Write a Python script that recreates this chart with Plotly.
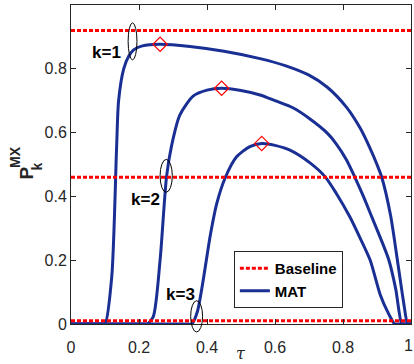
import plotly.graph_objects as go

# ---- data ----
tau_k1 = [0, 0.09, 0.10, 0.12, 0.134, 0.14, 0.155, 0.17, 0.185, 0.21, 0.26, 0.35, 0.45, 0.556,
          0.63, 0.70, 0.753, 0.81, 0.85, 0.88, 0.90, 0.914, 0.94, 0.96, 0.978, 0.99, 0.995, 1.0]
p_k1 = [0, 0, 0, 0.15, 0.55, 0.70, 0.80, 0.84, 0.86, 0.872, 0.877, 0.87, 0.855, 0.832,
        0.81, 0.78, 0.743, 0.68, 0.615, 0.55, 0.50, 0.46, 0.34, 0.20, 0.07, 0, 0, 0]

tau_k2 = [0, 0.215, 0.224, 0.242, 0.262, 0.281, 0.296, 0.32, 0.36, 0.40, 0.443, 0.50, 0.556, 0.60,
          0.654, 0.70, 0.753, 0.78, 0.81, 0.835, 0.86, 0.885, 0.91, 0.935, 0.955, 0.973, 0.98, 1.0]
p_k2 = [0, 0, 0, 0.023, 0.2, 0.462, 0.56, 0.655, 0.715, 0.733, 0.739, 0.732, 0.718, 0.70,
        0.677, 0.645, 0.599, 0.565, 0.515, 0.46, 0.40, 0.335, 0.27, 0.20, 0.11, 0, 0, 0]

tau_k3 = [0, 0.345, 0.355, 0.372, 0.41, 0.428, 0.453, 0.487, 0.526, 0.561, 0.60, 0.644, 0.703,
          0.747, 0.78, 0.82, 0.85, 0.88, 0.91, 0.935, 0.952, 0.96, 1.0]
p_k3 = [0, 0, 0, 0.04, 0.28, 0.375, 0.457, 0.524, 0.556, 0.566, 0.56, 0.545, 0.505,
        0.462, 0.41, 0.336, 0.27, 0.20, 0.09, 0.03, 0, 0, 0]

peak_tau = [0.262, 0.443, 0.561]
peak_p = [0.877, 0.739, 0.566]

baseline_values = [0.92, 0.46, 0.01]
baseline_tau = [0, 1]

k_labels = ["k=1", "k=2", "k=3"]
k_label_pos = [(0.153, 0.85), (0.267, 0.389), (0.37, 0.091)]
ellipse_boxes = [(0.168, 0.194, 0.828, 0.944), (0.262, 0.298, 0.413, 0.516),
                 (0.352, 0.387, -0.025, 0.073)]

tick_vals = [0, 0.2, 0.4, 0.6, 0.8, 1]
tick_text = ["0", "0.2", "0.4", "0.6", "0.8", "1"]

BLUE = "#1a2f94"
RED = "#ff0000"
AX = "#262626"
FONT = "Liberation Sans, Arial, sans-serif"

fig = go.Figure()

for i, (t, p) in enumerate([(tau_k1, p_k1), (tau_k2, p_k2), (tau_k3, p_k3)]):
    fig.add_trace(go.Scatter(x=t, y=p, mode="lines",
                             line=dict(color=BLUE, width=3, shape="spline", smoothing=0.7),
                             name="MAT", showlegend=(i == 0), legendrank=2,
                             cliponaxis=False))

for i, b in enumerate(baseline_values):
    fig.add_trace(go.Scatter(x=baseline_tau, y=[b, b], mode="lines",
                             line=dict(color=RED, width=3, dash="4px,2px"),
                             name="Baseline", showlegend=(i == 0), legendrank=1))

fig.add_trace(go.Scatter(x=peak_tau, y=peak_p, mode="markers", xaxis="x2",
                         marker=dict(symbol="diamond-open", size=11, color=RED,
                                     line=dict(width=1.2, color=RED)),
                         showlegend=False))

shapes = []
for (x0, x1, y0, y1) in ellipse_boxes:
    shapes.append(dict(type="circle", xref="paper", yref="paper", x0=x0, x1=x1, y0=y0, y1=y1,
                       line=dict(color="black", width=1)))

annotations = []
for lab, (x, y) in zip(k_labels, k_label_pos):
    annotations.append(dict(text="<b>%s</b>" % lab, x=x, y=y, xref="paper", yref="paper",
                            xanchor="right", yanchor="middle", showarrow=False,
                            font=dict(family=FONT, size=17, color="black")))

# last x tick label sits at the figure edge: drawn as an annotation so it is not hidden
annotations.append(dict(text=tick_text[-1], x=tick_vals[-1], y=-0.066, xref="x2", yref="paper",
                        xanchor="right", yanchor="middle", xshift=3, showarrow=False,
                        borderpad=0, font=dict(family=FONT, size=16, color=AX)))

# axis titles
annotations.append(dict(text="<i>τ</i>", x=0.5, y=-0.092, xref="paper", yref="paper",
                        xanchor="center", yanchor="middle", showarrow=False,
                        font=dict(family="DejaVu Serif, serif", size=16, color=AX)))
annotations.append(dict(text="<b>P</b>", x=-0.131, y=0.473, xref="paper", yref="paper",
                        xanchor="center", yanchor="middle", showarrow=False, textangle=-90,
                        font=dict(family=FONT, size=19, color=AX)))
annotations.append(dict(text="<b>MX</b>", x=-0.165, y=0.5235, xref="paper", yref="paper",
                        xanchor="center", yanchor="middle", showarrow=False, textangle=-90,
                        font=dict(family=FONT, size=14, color=AX)))
annotations.append(dict(text="<b>k</b>", x=-0.1, y=0.494, xref="paper", yref="paper",
                        xanchor="center", yanchor="middle", showarrow=False, textangle=-90,
                        font=dict(family=FONT, size=14, color=AX)))

axis_common = dict(range=[0, 1], tickvals=tick_vals, ticktext=tick_text, showgrid=False,
                   zeroline=False, showline=True, linecolor=AX, linewidth=1, mirror="ticks",
                   ticks="inside", ticklen=5, tickcolor=AX,
                   tickfont=dict(family=FONT, size=16, color=AX))

xaxis_labels = dict(range=[0, 1], tickvals=tick_vals[:-1], ticktext=tick_text[:-1], showgrid=False,
                    zeroline=False, showline=False, overlaying="x", anchor="y", side="bottom",
                    ticks="outside", ticklen=9, tickcolor="rgba(0,0,0,0)",
                    tickfont=dict(family=FONT, size=16, color=AX))

fig.update_layout(
    width=414, height=364,
    margin=dict(l=71, r=3, t=5, b=40),
    paper_bgcolor="white", plot_bgcolor="white",
    xaxis=dict(axis_common, showticklabels=False), xaxis2=xaxis_labels, yaxis=axis_common,
    shapes=shapes, annotations=annotations,
    legend=dict(x=0.479, y=0.229, xanchor="left", yanchor="top",
                bgcolor="white", bordercolor=AX, borderwidth=1,
                font=dict(family=FONT, size=15, color="black", weight="bold"),
                itemwidth=30, tracegroupgap=0),
)

fig.write_html("out.html")
